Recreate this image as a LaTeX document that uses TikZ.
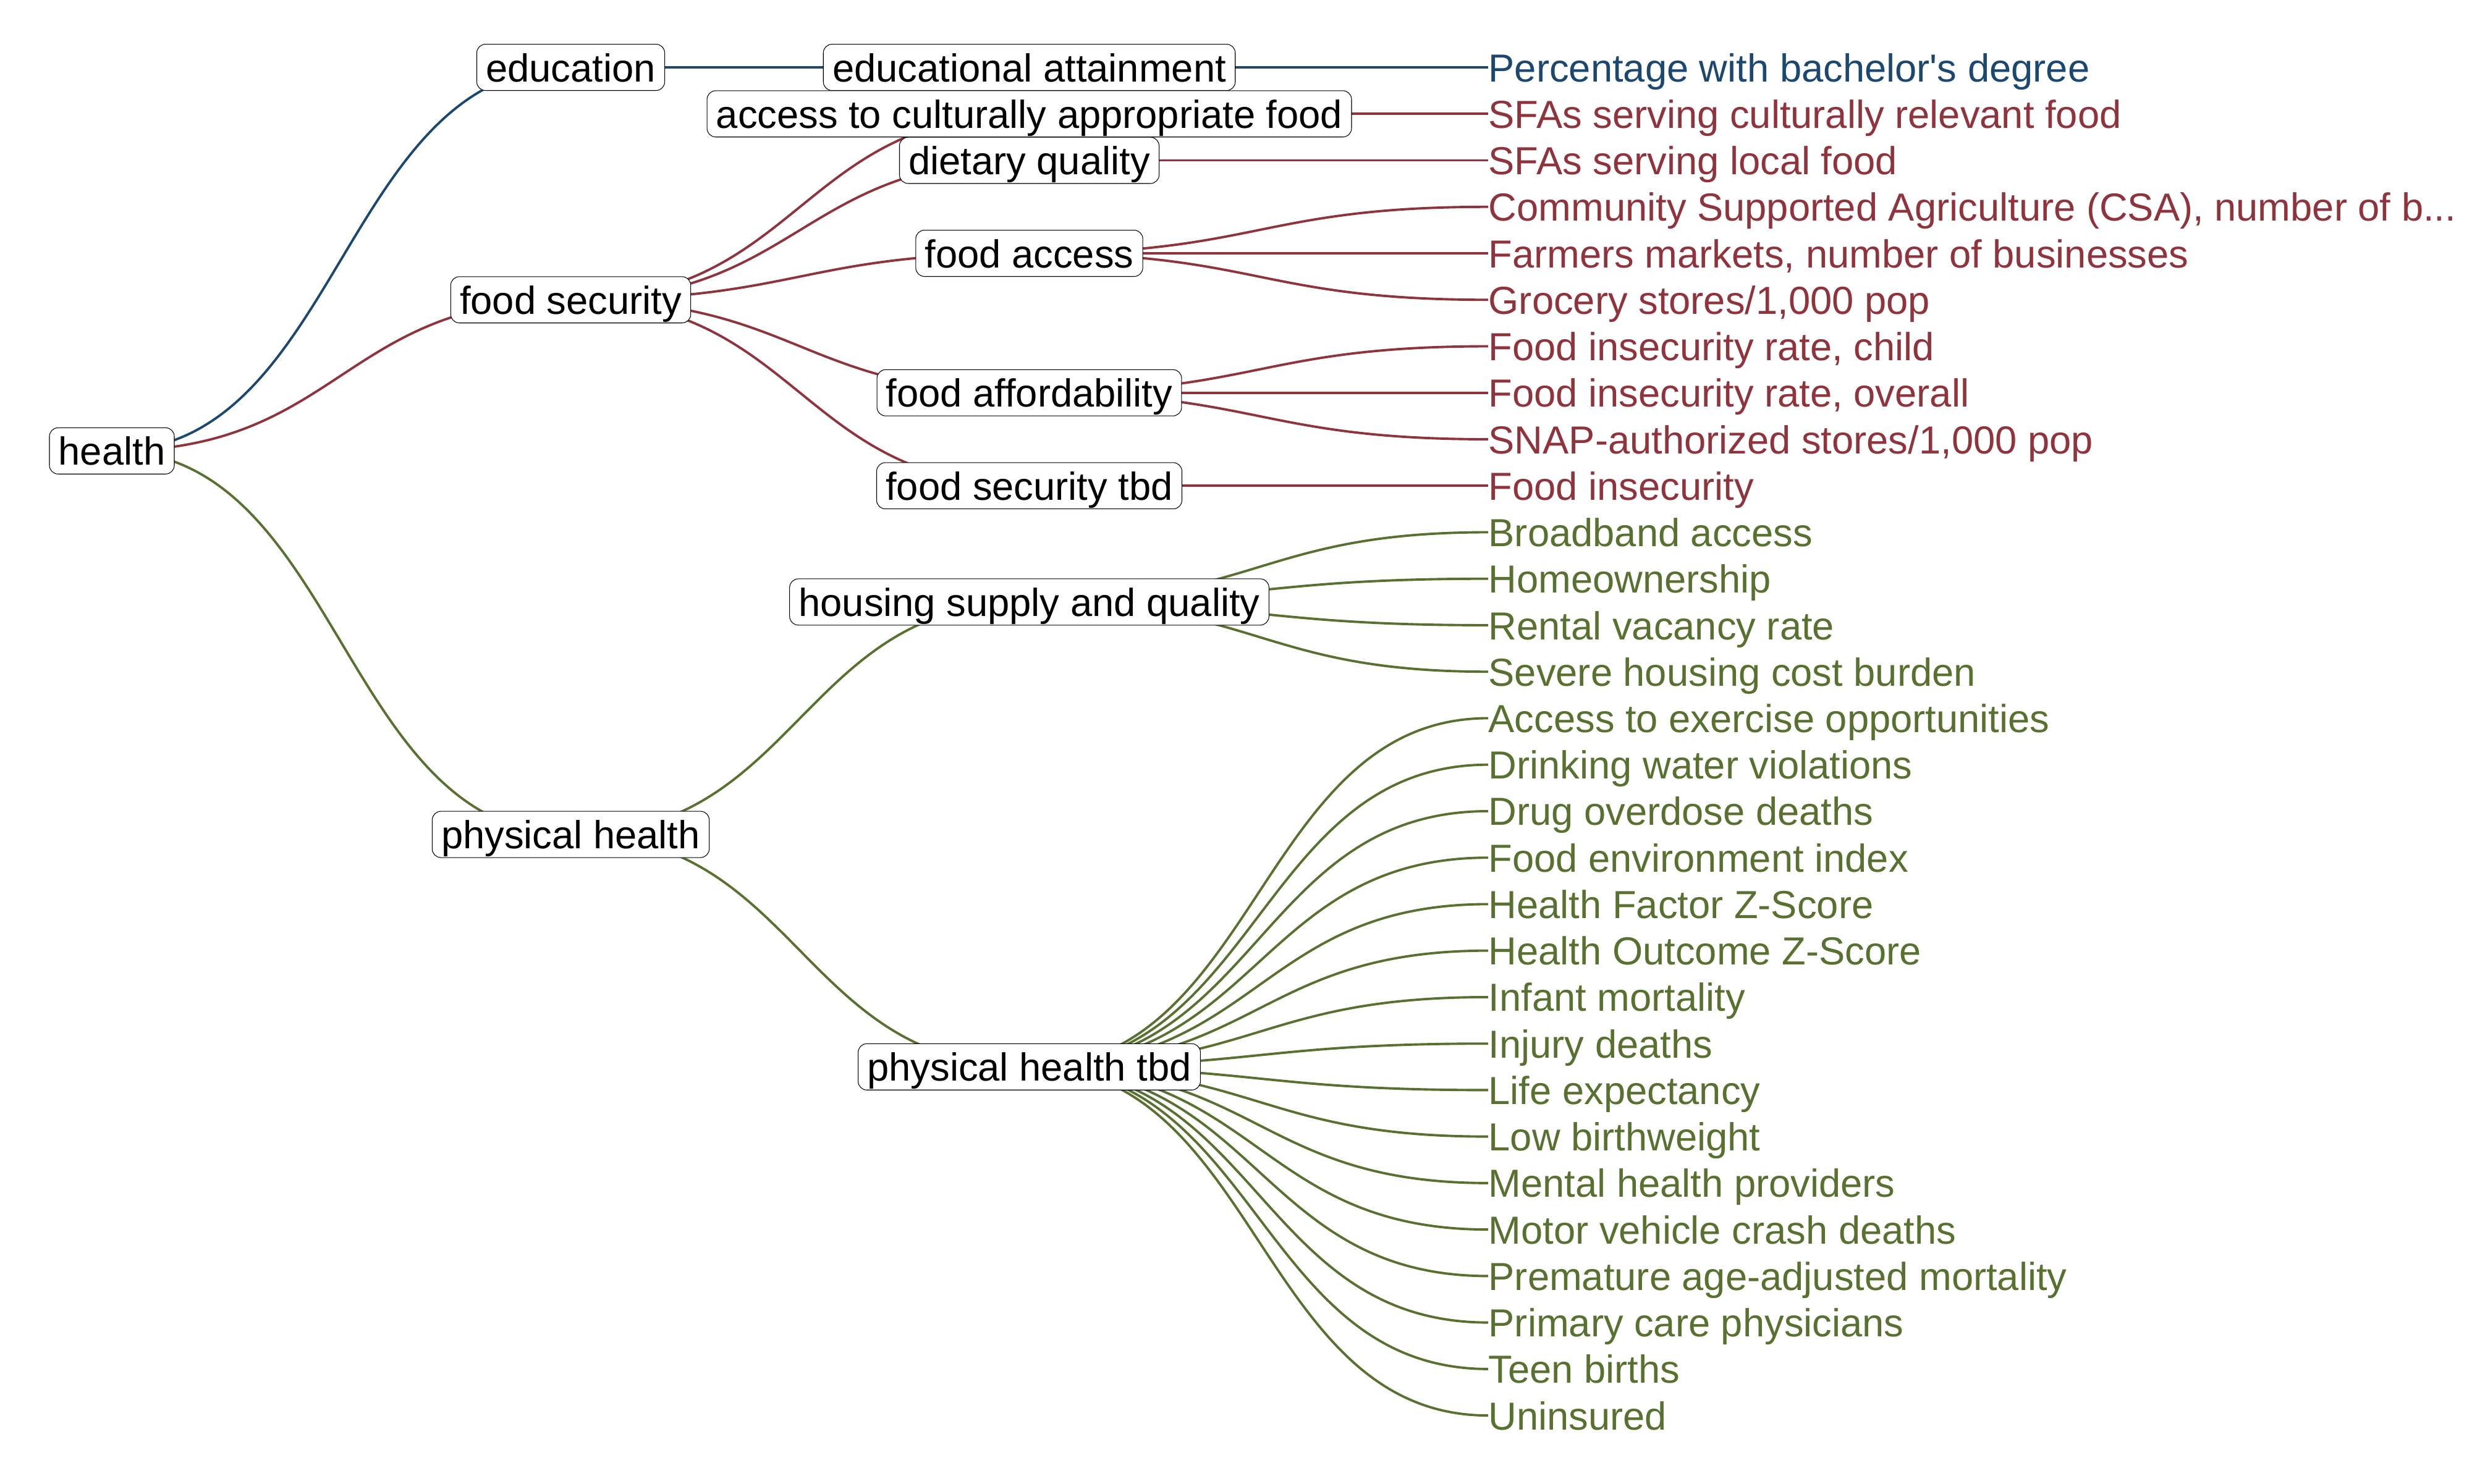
\documentclass[tikz,border=0pt]{standalone}
\usepackage{fontspec}
\setmainfont{Liberation Sans}[Ligatures=TeXOff]
\definecolor{cblue}{RGB}{28,72,112}
\definecolor{cred}{RGB}{143,52,61}
\definecolor{cgreen}{RGB}{88,113,48}
\pgfdeclarelayer{edgelayer}
\pgfsetlayers{edgelayer,main}
\newcommand\mylink[3]{\draw[edge,#3] (#1) .. controls +(371,0) and +(-371,0) .. (#2);}
\begin{document}
\begin{tikzpicture}[x=0.01cm,y=-0.752cm,
  lbl/.style={font=\fontsize{18}{21}\selectfont, text height=17.2pt, text depth=4.1pt},
  box/.style={lbl, draw=black, line width=0.3pt, fill=white, rounded corners=4pt, inner xsep=4.2pt, inner ysep=0pt, text=black},
  leaf/.style={lbl, anchor=west, inner sep=0pt},
  bl/.style={leaf, text=cblue},
  rl/.style={leaf, text=cred},
  gl/.style={leaf, text=cgreen},
  edge/.style={line width=1.1pt}]
\useasboundingbox (0,-1.4495) rectangle (4000,30.4654);
% root and top level
\node[box] (health) at (181,8.25) {health};
\node[box] (edu) at (923.5,0) {education};
\node[box] (fs) at (923.5,5) {food security};
\node[box] (ph) at (923.5,16.5) {physical health};
% second level
\node[box] (ea) at (1665.5,0) {educational attainment};
\node[box] (acf) at (1665.5,1) {access to culturally appropriate food};
\node[box] (dq) at (1665.5,2) {dietary quality};
\node[box] (fa) at (1665.5,4) {food access};
\node[box] (faf) at (1665.5,7) {food affordability};
\node[box] (fst) at (1665.5,9) {food security tbd};
\node[box] (hsq) at (1665.5,11.5) {housing supply and quality};
\node[box] (pht) at (1665.5,21.5) {physical health tbd};
% leaves
\node[bl] (l0) at (2408,0) {Percentage with bachelor's degree};
\node[rl] (l1) at (2408,1) {SFAs serving culturally relevant food};
\node[rl] (l2) at (2408,2) {SFAs serving local food};
\node[rl] (l3) at (2408,3) {Community Supported Agriculture (CSA), number of b...};
\node[rl] (l4) at (2408,4) {Farmers markets, number of businesses};
\node[rl] (l5) at (2408,5) {Grocery stores/1,000 pop};
\node[rl] (l6) at (2408,6) {Food insecurity rate, child};
\node[rl] (l7) at (2408,7) {Food insecurity rate, overall};
\node[rl] (l8) at (2408,8) {SNAP-authorized stores/1,000 pop};
\node[rl] (l9) at (2408,9) {Food insecurity};
\node[gl] (l10) at (2408,10) {Broadband access};
\node[gl] (l11) at (2408,11) {Homeownership};
\node[gl] (l12) at (2408,12) {Rental vacancy rate};
\node[gl] (l13) at (2408,13) {Severe housing cost burden};
\node[gl] (l14) at (2408,14) {Access to exercise opportunities};
\node[gl] (l15) at (2408,15) {Drinking water violations};
\node[gl] (l16) at (2408,16) {Drug overdose deaths};
\node[gl] (l17) at (2408,17) {Food environment index};
\node[gl] (l18) at (2408,18) {Health Factor Z-Score};
\node[gl] (l19) at (2408,19) {Health Outcome Z-Score};
\node[gl] (l20) at (2408,20) {Infant mortality};
\node[gl] (l21) at (2408,21) {Injury deaths};
\node[gl] (l22) at (2408,22) {Life expectancy};
\node[gl] (l23) at (2408,23) {Low birthweight};
\node[gl] (l24) at (2408,24) {Mental health providers};
\node[gl] (l25) at (2408,25) {Motor vehicle crash deaths};
\node[gl] (l26) at (2408,26) {Premature age-adjusted mortality};
\node[gl] (l27) at (2408,27) {Primary care physicians};
\node[gl] (l28) at (2408,28) {Teen births};
\node[gl] (l29) at (2408,29) {Uninsured};
% connectors
\begin{pgfonlayer}{edgelayer}
\mylink{health.center}{edu.center}{cblue}
\mylink{health.center}{fs.center}{cred}
\mylink{health.center}{ph.center}{cgreen}
\mylink{edu.center}{ea.center}{cblue}
\mylink{ea.center}{l0.west}{cblue}
\mylink{fs.center}{acf.center}{cred}
\mylink{fs.center}{dq.center}{cred}
\mylink{fs.center}{fa.center}{cred}
\mylink{fs.center}{faf.center}{cred}
\mylink{fs.center}{fst.center}{cred}
\mylink{acf.center}{l1.west}{cred}
\mylink{dq.center}{l2.west}{cred}
\foreach \i in {3,4,5} {\mylink{fa.center}{l\i.west}{cred}}
\foreach \i in {6,7,8} {\mylink{faf.center}{l\i.west}{cred}}
\mylink{fst.center}{l9.west}{cred}
\mylink{ph.center}{hsq.center}{cgreen}
\mylink{ph.center}{pht.center}{cgreen}
\foreach \i in {10,...,13} {\mylink{hsq.center}{l\i.west}{cgreen}}
\foreach \i in {14,...,29} {\mylink{pht.center}{l\i.west}{cgreen}}
\end{pgfonlayer}
\end{tikzpicture}
\end{document}
